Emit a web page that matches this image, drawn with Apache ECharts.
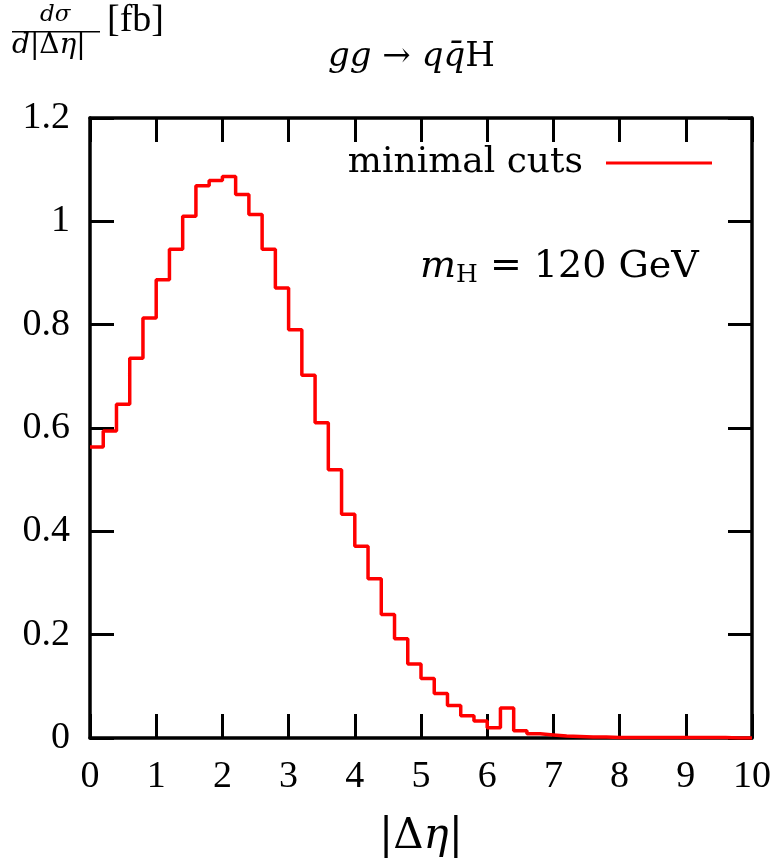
<!DOCTYPE html>
<html>
<head>
<meta charset="utf-8">
<script src="https://cdn.jsdelivr.net/npm/echarts@6/dist/echarts.min.js"></script>
<style>
  html, body { margin: 0; padding: 0; background: #fff; }
  #chart { width: 778px; height: 863px; }
</style>
</head>
<body>
<div id="chart"></div>
<script>
// histogram bins: |Δη| from 0 to 10, width 0.2
const binStart = 0
const binWidth = 0.2
const minimalCuts = [
  0.563, 0.594, 0.646, 0.735, 0.813, 0.887, 0.946, 1.010, 1.069, 1.079,
  1.087, 1.052, 1.013, 0.946, 0.871, 0.790, 0.702, 0.610, 0.519, 0.433,
  0.371, 0.308, 0.239, 0.192, 0.143, 0.115, 0.086, 0.063, 0.043, 0.033,
  0.020, 0.058, 0.014, 0.008, 0.006, 0.004, 0.003, 0.002, 0.002, 0.001,
  0.001, 0.001, 0.001, 0.001, 0.001, 0.001, 0.001, 0.001, 0.000, 0.000
]
const xTicks = [0, 1, 2, 3, 4, 5, 6, 7, 8, 9, 10]
const yTicks = [0, 0.2, 0.4, 0.6, 0.8, 1, 1.2]

const font = 'Liberation Serif'
const wideFont = 'DejaVu Serif'

// step points: left edge of every bin, plus the closing edge
const stepData = minimalCuts.map((v, i) => [binStart + i * binWidth, v])
stepData.push([binStart + minimalCuts.length * binWidth, minimalCuts[minimalCuts.length - 1]])

const tickStyle = { show: true, inside: true, length: 24, lineStyle: { color: '#000', width: 3 } }
const lineStyle = { color: '#000', width: 3.5 }

const chart = echarts.init(document.getElementById('chart'))
chart.setOption({
  animation: false,
  backgroundColor: '#fff',
  grid: { left: 90, right: 26, top: 118, bottom: 121 },
  legend: {
    top: 140,
    right: 61,
    align: 'right',
    itemWidth: 106,
    itemHeight: 3,
    itemGap: 0,
    textStyle: { fontFamily: wideFont, fontSize: 36, color: '#000', padding: [0, 18, 0, 0] },
    data: [{ name: 'minimal cuts', icon: 'rect' }]
  },
  xAxis: [
    {
      type: 'value',
      min: xTicks[0],
      max: xTicks[xTicks.length - 1],
      interval: 1,
      name: '{n||Δ}{i|η}{n||}',
      nameLocation: 'middle',
      nameGap: 78,
      nameTextStyle: {
        rich: {
          n: { fontFamily: wideFont, fontSize: 42, color: '#000' },
          i: { fontFamily: wideFont, fontSize: 42, color: '#000', fontStyle: 'italic' }
        }
      },
      axisLine: { onZero: false, lineStyle },
      axisTick: tickStyle,
      axisLabel: { fontFamily: font, fontSize: 38, color: '#000', margin: 20 },
      splitLine: { show: false }
    },
    {
      type: 'value',
      position: 'top',
      min: 0,
      max: 10,
      interval: 1,
      axisLine: { onZero: false, lineStyle },
      axisTick: tickStyle,
      axisLabel: { show: false },
      splitLine: { show: false }
    }
  ],
  yAxis: [
    {
      type: 'value',
      min: yTicks[0],
      max: yTicks[yTicks.length - 1],
      interval: 0.2,
      axisLine: { show: true, onZero: false, lineStyle },
      axisTick: tickStyle,
      axisLabel: { fontFamily: font, fontSize: 38, color: '#000', margin: 20 },
      splitLine: { show: false }
    },
    {
      type: 'value',
      position: 'right',
      min: 0,
      max: 1.2,
      interval: 0.2,
      axisLine: { show: true, onZero: false, lineStyle },
      axisTick: tickStyle,
      axisLabel: { show: false },
      splitLine: { show: false }
    }
  ],
  graphic: [
    // y-axis label as fraction dσ / d|Δη| [fb]
    { type: 'text', left: 40, top: 4, style: { text: 'dσ', fontFamily: wideFont, fontStyle: 'italic', fontSize: 23, fill: '#000' } },
    { type: 'rect', shape: { x: 12, y: 31, width: 88, height: 1.5 }, style: { fill: '#000' } },
    {
      type: 'text', left: 12, top: 32,
      style: {
        text: '{i|d}{n||Δ}{i|η}{n||}',
        rich: {
          i: { fontFamily: wideFont, fontStyle: 'italic', fontSize: 28, fill: '#000' },
          n: { fontFamily: wideFont, fontSize: 28, fill: '#000' }
        }
      }
    },
    { type: 'text', left: 107, top: 2, style: { text: '[fb]', fontFamily: font, fontSize: 38, fill: '#000' } },
    // title
    {
      type: 'text', left: 328, top: 40,
      style: {
        text: '{i|gg}{n| → }{i|qq̄}{n|H}',
        rich: {
          i: { fontFamily: wideFont, fontStyle: 'italic', fontSize: 34, fill: '#000' },
          n: { fontFamily: wideFont, fontSize: 34, fill: '#000' }
        }
      }
    },
    // Higgs mass annotation
    {
      type: 'text', left: 420, top: 248,
      style: {
        text: '{m|m}{s|H}{n| = 120 GeV}',
        rich: {
          m: { fontFamily: wideFont, fontStyle: 'italic', fontSize: 38, fill: '#000' },
          s: { fontFamily: wideFont, fontSize: 25, fill: '#000', padding: [16, 0, 0, 0] },
          n: { fontFamily: wideFont, fontSize: 38, fill: '#000' }
        }
      }
    }
  ],
  series: [
    {
      name: 'minimal cuts',
      type: 'line',
      step: 'end',
      xAxisIndex: 0,
      yAxisIndex: 0,
      showSymbol: false,
      symbol: 'none',
      lineStyle: { color: '#ff0000', width: 3.5 },
      itemStyle: { color: '#ff0000' },
      data: stepData
    }
  ]
})

window.addEventListener('resize', () => chart.resize())
</script>
</body>
</html>
